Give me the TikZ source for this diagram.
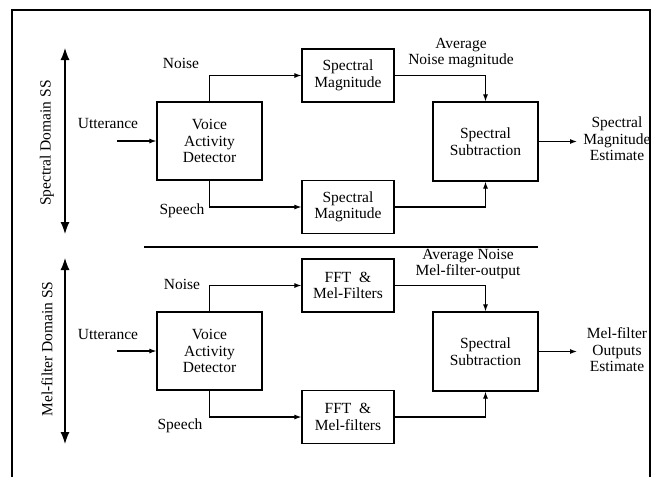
\documentclass[tikz,border=0pt]{standalone}
\usepackage{fontspec}
\setmainfont{Liberation Serif}
\usetikzlibrary{arrows.meta}
\begin{document}
\begin{tikzpicture}[x=1pt,y=-1pt,
  font=\fontsize{15.5}{16.5}\selectfont,
  blk/.style={draw,line width=1.2pt,inner sep=0pt,align=center},
  vadbox/.style={blk,minimum width=105pt,minimum height=78pt},
  smallbox/.style={blk,minimum width=92pt,minimum height=53pt},
  subbox/.style={blk,minimum width=105pt,minimum height=79pt},
  lbl/.style={inner sep=0pt,align=center},
  conn/.style={line width=1.1pt,-{Latex[length=7pt,width=5pt]}},
  dbl/.style={line width=1.2pt,{Latex[length=12pt,width=9pt]}-{Latex[length=12pt,width=9pt]}},
  rule/.style={line width=1.2pt}]
\useasboundingbox (0,0) rectangle (656,477);
% outer frame
\draw[rule] (12,477) -- (12,10) -- (650,10) -- (650,477);

% ---------- spectral domain ----------
\node[vadbox]   (vad1) at (209.5,141)   {Voice\\Activity\\Detector};
\node[smallbox] (sm1)  at (348,75.5)    {Spectral\\Magnitude};
\node[smallbox] (sm2)  at (348,207)     {Spectral\\Magnitude};
\node[subbox]   (ss1)  at (485.5,141.5) {Spectral\\Subtraction};

\node[lbl] (utt1lbl) at (108,123) {Utterance};
\node[lbl] (noi1lbl) at (181,63)  {Noise};
\node[lbl] (spe1lbl) at (182,211) {Speech};
\node[lbl] (avg1lbl) at (461,53)  {Average\\Noise magnitude};
\node[lbl] (out1lbl) at (617,139) {Spectral\\Magnitude\\Estimate};
\node[lbl,rotate=90] (dom1lbl) at (47,143) {Spectral Domain SS};

\coordinate (utt1) at (117,141);
\coordinate (out1) at (577,141.5);
\coordinate (d1a) at (65,48);
\coordinate (d1b) at (65,234);

\draw[conn] (utt1) -- (vad1.west);
\draw[conn] (vad1.north) |- (sm1.west);
\draw[conn] (vad1.south) |- (sm2.west);
\draw[conn] (sm1.east) -| (ss1.north);
\draw[conn] (sm2.east) -| (ss1.south);
\draw[conn] (ss1.east) -- (out1);
\draw[dbl] (d1a) -- (d1b);

% separator
\coordinate (sepL) at (144,247);
\coordinate (sepR) at (538,247);
\draw[rule] (sepL) -- (sepR);

% ---------- mel-filter domain ----------
\node[vadbox]   (vad2) at (209.5,351)   {Voice\\Activity\\Detector};
\node[smallbox] (ff1)  at (348,285.5)   {FFT\ \ \&\\Mel-Filters};
\node[smallbox] (ff2)  at (348,417)     {FFT\ \ \&\\Mel-filters};
\node[subbox]   (ss2)  at (485.5,351.5) {Spectral\\Subtraction};

\node[lbl] (utt2lbl) at (108,334) {Utterance};
\node[lbl] (noi2lbl) at (182,284) {Noise};
\node[lbl] (spe2lbl) at (180,426) {Speech};
\node[lbl] (avg2lbl) at (468,264) {Average Noise\\Mel-filter-output};
\node[lbl] (out2lbl) at (617,350) {Mel-filter\\Outputs\\Estimate};
\node[lbl,rotate=90] (dom2lbl) at (47,349) {Mel-filter Domain SS};

\coordinate (utt2) at (117,351);
\coordinate (out2) at (577,351.5);
\coordinate (d2a) at (65,258);
\coordinate (d2b) at (65,444);

\draw[conn] (utt2) -- (vad2.west);
\draw[conn] (vad2.north) |- (ff1.west);
\draw[conn] (vad2.south) |- (ff2.west);
\draw[conn] (ff1.east) -| (ss2.north);
\draw[conn] (ff2.east) -| (ss2.south);
\draw[conn] (ss2.east) -- (out2);
\draw[dbl] (d2a) -- (d2b);
\end{tikzpicture}
\end{document}
